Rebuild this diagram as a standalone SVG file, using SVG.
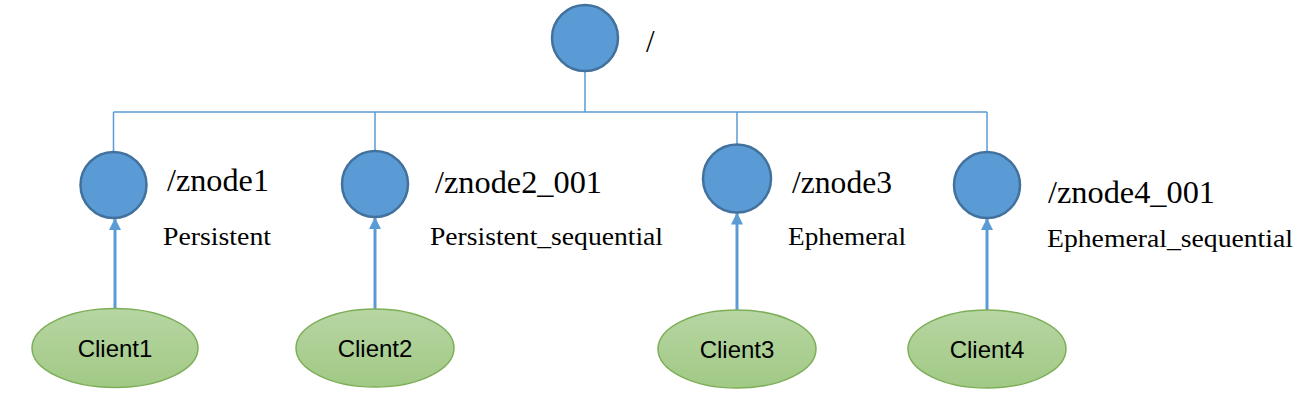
<svg xmlns="http://www.w3.org/2000/svg" width="1302" height="410" viewBox="0 0 1302 410">
<style>
.zn{fill:#5B9BD5;stroke:#41719C;stroke-width:2.5}
.cl{fill:url(#g);stroke:#7DAE58;stroke-width:1.5}
.tree{stroke:#5B9BD5;stroke-width:1.5;fill:none}
.arr{stroke:#5B9BD5;stroke-width:3;fill:none;marker-end:url(#ah)}
.t1{font-family:"Liberation Serif","Times New Roman",serif;font-size:31px;fill:#000}
.t2{font-family:"Liberation Serif","Times New Roman",serif;font-size:26px;fill:#000}
.ct{font-family:"Liberation Sans",Arial,sans-serif;font-size:24px;fill:#000;text-anchor:middle}
</style>
<defs>
<linearGradient id="g" x1="0" y1="0" x2="0" y2="1">
<stop offset="0" stop-color="#B7D6A3"/>
<stop offset="1" stop-color="#A1C985"/>
</linearGradient>
<marker id="ah" viewBox="0 0 12 12" refX="12" refY="6" markerWidth="12" markerHeight="12" markerUnits="userSpaceOnUse" orient="auto">
<path d="M0,0 L12,6 L0,12 Z" fill="#5B9BD5"/>
</marker>
</defs>
<g id="connectors">
<path class="tree" d="M585,71 V112 M113.5,112 H987 M113.5,112 V152 M375,112 V151 M737,112 V144.5 M987,112 V152"/>
<line class="arr" x1="115" y1="309" x2="115" y2="218"/>
<line class="arr" x1="375" y1="309" x2="375" y2="217"/>
<line class="arr" x1="737" y1="310" x2="737" y2="212.5"/>
<line class="arr" x1="987" y1="310" x2="987" y2="218"/>
</g>
<g id="root">
<circle class="zn" cx="585" cy="38" r="33"/>
<text class="t1" x="646" y="52">/</text>
</g>
<g id="znode1">
<circle class="zn" cx="113.5" cy="185" r="33"/>
<text class="t1" x="167" y="191" textLength="102" lengthAdjust="spacingAndGlyphs">/znode1</text>
<text class="t2" x="163" y="245" textLength="108" lengthAdjust="spacingAndGlyphs">Persistent</text>
</g>
<g id="znode2">
<circle class="zn" cx="375" cy="184" r="33"/>
<text class="t1" x="435" y="193" textLength="167" lengthAdjust="spacingAndGlyphs">/znode2_001</text>
<text class="t2" x="430" y="245" textLength="233" lengthAdjust="spacingAndGlyphs">Persistent_sequential</text>
</g>
<g id="znode3">
<circle class="zn" cx="737" cy="178.5" r="34"/>
<text class="t1" x="792" y="193" textLength="100" lengthAdjust="spacingAndGlyphs">/znode3</text>
<text class="t2" x="788" y="245" textLength="118" lengthAdjust="spacingAndGlyphs">Ephemeral</text>
</g>
<g id="znode4">
<circle class="zn" cx="987" cy="185" r="33"/>
<text class="t1" x="1048" y="203" textLength="167" lengthAdjust="spacingAndGlyphs">/znode4_001</text>
<text class="t2" x="1047" y="247" textLength="246" lengthAdjust="spacingAndGlyphs">Ephemeral_sequential</text>
</g>
<g id="client1">
<ellipse class="cl" cx="115" cy="348" rx="83" ry="39.5"/>
<text class="ct" x="115" y="357">Client1</text>
</g>
<g id="client2">
<ellipse class="cl" cx="375" cy="348" rx="79" ry="39"/>
<text class="ct" x="375" y="357">Client2</text>
</g>
<g id="client3">
<ellipse class="cl" cx="737" cy="349" rx="79" ry="39"/>
<text class="ct" x="737" y="358">Client3</text>
</g>
<g id="client4">
<ellipse class="cl" cx="987" cy="349" rx="79" ry="39"/>
<text class="ct" x="987" y="358">Client4</text>
</g>
</svg>
